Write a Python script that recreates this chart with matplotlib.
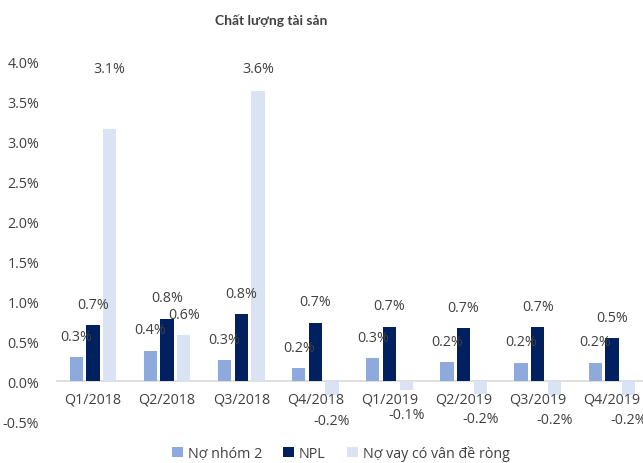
import numpy as np
import matplotlib.pyplot as plt

quarters = ["Q1/2018", "Q2/2018", "Q3/2018", "Q4/2018",
            "Q1/2019", "Q2/2019", "Q3/2019", "Q4/2019"]
no_nhom_2 = [0.30, 0.38, 0.26, 0.16, 0.29, 0.24, 0.23, 0.23]
npl = [0.70, 0.78, 0.84, 0.73, 0.68, 0.66, 0.67, 0.54]
no_van_de = [3.15, 0.57, 3.63, -0.18, -0.11, -0.16, -0.17, -0.17]
series_names = ["Nợ nhóm 2", "NPL", "Nợ vay có vân đề ròng"]

colors = ["#8EA9DB", "#002060", "#DAE3F3"]
txt = "#404040"
plt.rcParams["font.family"] = ["Open Sans", "DejaVu Sans"]
fs = 10.3

fig = plt.figure(figsize=(6.43, 4.64), dpi=100)
ax = fig.add_axes([0.087, 0.0905, 0.913, 0.7755])

x = np.arange(len(quarters))
w = 0.18
step = 0.225
data = [no_nhom_2, npl, no_van_de]
for i, (vals, c, name) in enumerate(zip(data, colors, series_names)):
    xs = x + (i - 1) * step
    ax.bar(xs, vals, width=w, color=c, label=name)
    for xi, v in zip(xs, vals):
        if v >= 0:
            off = 15
            if 3.0 < v < 3.3:
                off = 44
            elif v > 3.5:
                off = 16
            ax.annotate(f"{v:.1f}%", (xi, v), xytext=(0, off),
                        textcoords="offset points", ha="center", va="center",
                        fontsize=fs, color=txt)
        else:
            ax.annotate(f"{v:.1f}%", (xi, v), xytext=(0, -18),
                        textcoords="offset points", ha="center", va="center",
                        fontsize=fs, color=txt)

ax.set_ylim(-0.5, 4.0)
ax.set_xlim(-0.5, 7.42)
yt = np.arange(-0.5, 4.01, 0.5)
ax.set_yticks(yt)
ax.set_yticklabels([f"{t:.1f}%" for t in yt])
ax.set_xticks(x)
ax.set_xticklabels(quarters)
for s in ax.spines.values():
    s.set_visible(False)
ax.axhline(0, color="#D9D9D9", lw=1.2, zorder=0.5)
ax.tick_params(axis="both", length=0, labelsize=fs, colors=txt)
ax.tick_params(axis="x", pad=-21)
ax.tick_params(axis="y", pad=12)

fig.text(0.422, 0.955, "Chất lượng tài sản", ha="center", va="center",
         fontsize=10, fontweight="bold", color=txt, family=["Lato", "DejaVu Sans"])
fig.legend(loc="center", bbox_to_anchor=(0.53, 0.022), ncol=3, frameon=False,
           fontsize=fs, labelcolor=txt, handlelength=0.75, handleheight=0.75,
           columnspacing=1.5, handletextpad=0.35)

fig.savefig("out.png", dpi=100)
